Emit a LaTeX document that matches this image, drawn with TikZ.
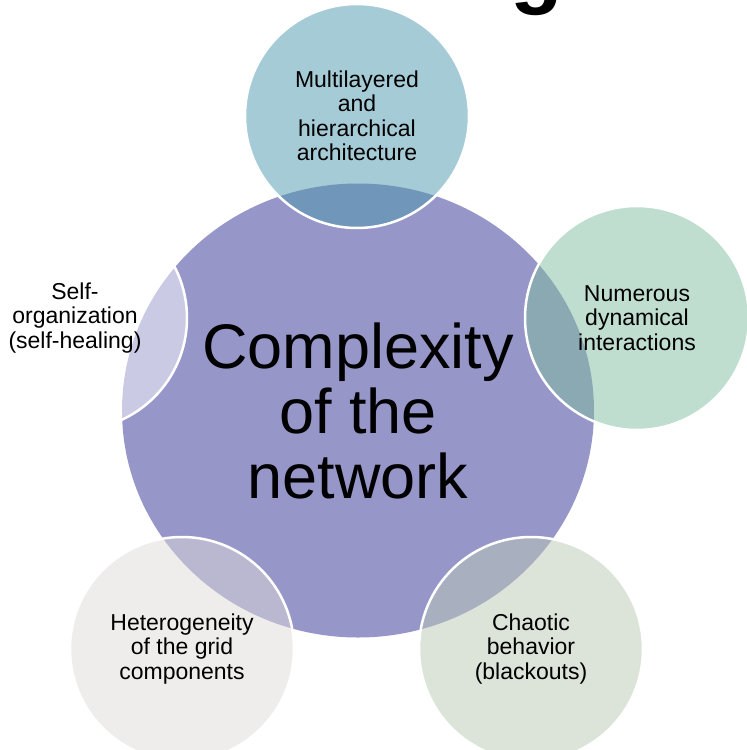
\documentclass[tikz,border=0pt]{standalone}
\usepackage{fontspec}
\setmainfont{Liberation Sans}
\usepackage{tikz}
\usetikzlibrary{shapes.geometric}
\definecolor{netfill}{RGB}{151,150,201}
\definecolor{multifill}{RGB}{75,151,173}
\definecolor{numfill}{RGB}{127,189,159}
\definecolor{chaosfill}{RGB}{185,201,181}
\definecolor{heterofill}{RGB}{221,219,215}
\definecolor{selffill}{RGB}{255,255,255}
\tikzset{
  bubble/.style={circle, minimum size=224pt, inner sep=0pt, draw=white, line width=2.5pt,
    fill opacity=0.5, text opacity=1, align=center, font=\fontsize{23}{24.5}\selectfont},
}

\begin{document}
\begin{tikzpicture}[x=1pt,y=-1pt]
\useasboundingbox (0,0) rectangle (747,750);
\clip (0,0) rectangle (747,750);
% centre
\node[ellipse, fill=netfill, minimum width=472pt, minimum height=454pt, inner sep=0pt,
  align=center, font=\fontsize{63}{65}\selectfont] (net) at (358,410.5) {Complexity\\of the\\network};
% outer circles
\node[bubble, fill=multifill] (multi) at (357,116) {Multilayered\\and\\hierarchical\\architecture};
\node[bubble, fill=numfill] (num) at (637,318) {Numerous\\dynamical\\interactions};
\node[bubble, fill=chaosfill] (chaos) at (531,649) {Chaotic\\behavior\\(blackouts)};
\node[bubble, fill=heterofill] (hetero) at (182,649) {Heterogeneity\\of the grid\\components};
\node[bubble, fill=selffill] (self) at (75,318) {Self-\\organization\\(self-healing)};
% cut title
\node[anchor=base west, inner sep=0pt, font=\fontsize{86}{86}\selectfont\bfseries] (title) at (510,-3) {g};
\end{tikzpicture}
\end{document}
